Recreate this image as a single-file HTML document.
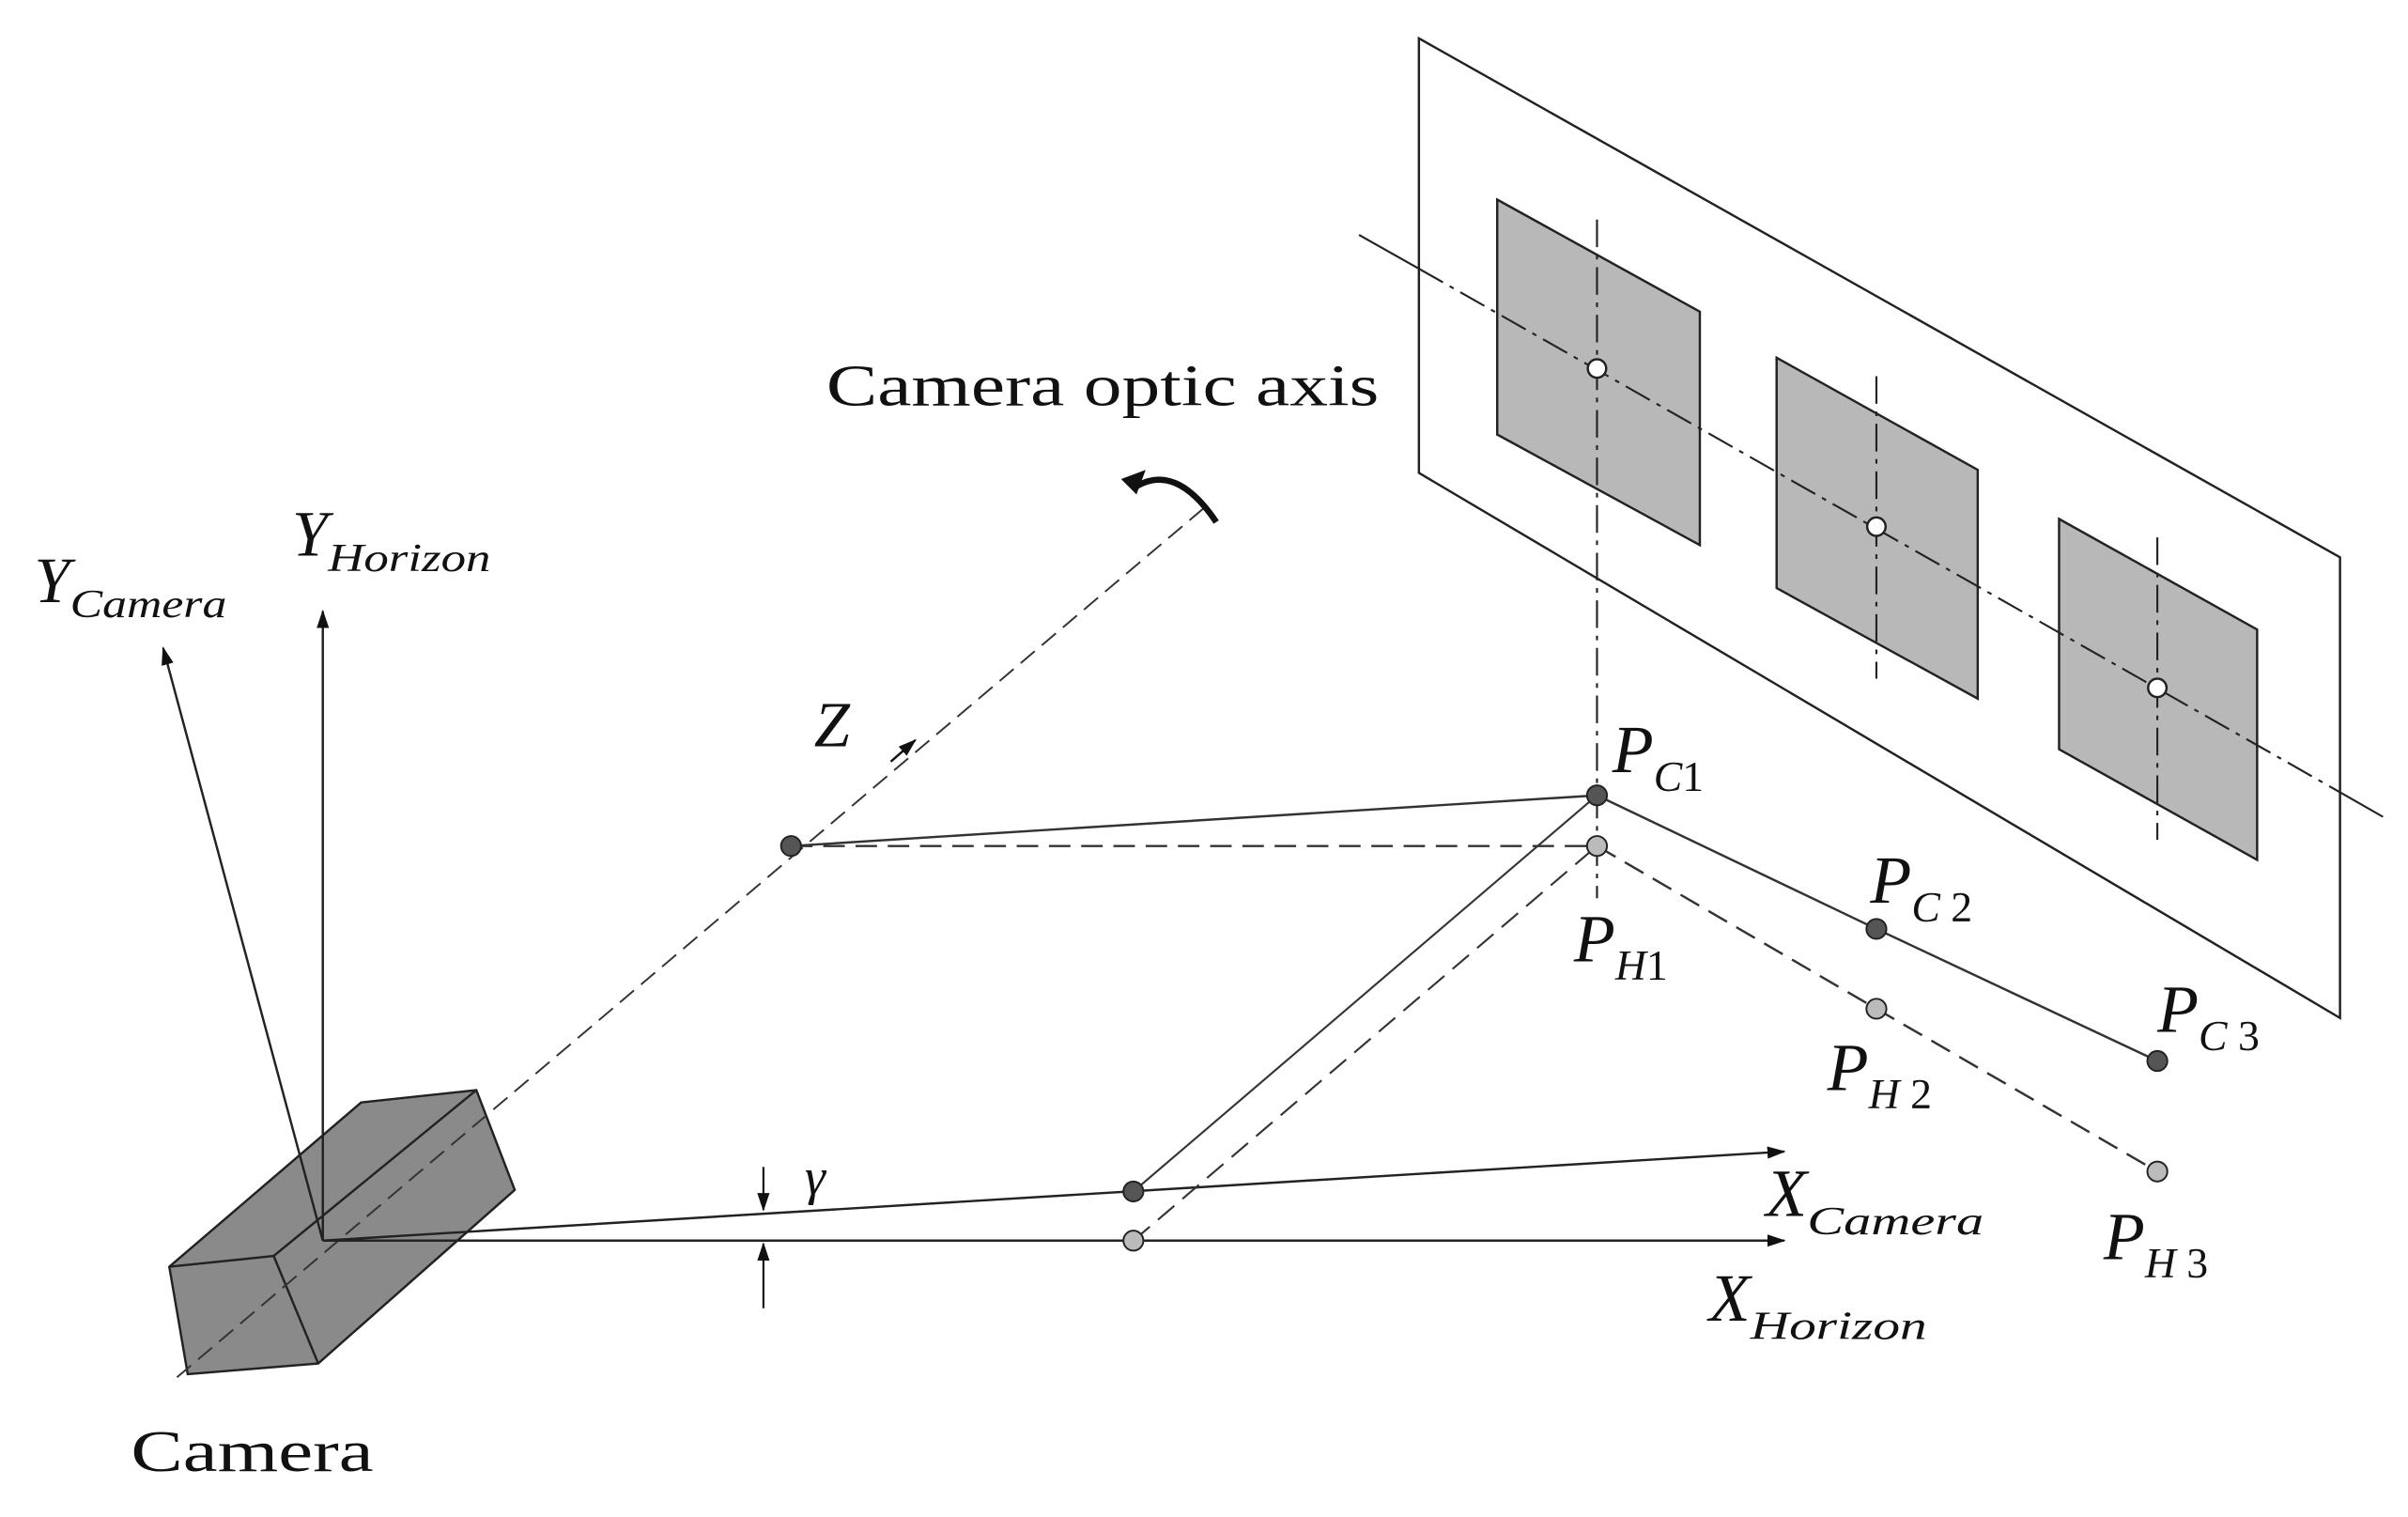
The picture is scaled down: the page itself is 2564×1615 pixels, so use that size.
<!DOCTYPE html>
<html><head><meta charset="utf-8"><style>html,body{margin:0;padding:0;background:#fff}svg{display:block}</style></head>
<body>
<svg width="2564" height="1615" viewBox="0 0 1568 988" xmlns="http://www.w3.org/2000/svg" font-family="Liberation Serif, serif">
<defs>
<marker id="ar" markerWidth="12" markerHeight="8" refX="11" refY="4" orient="auto" markerUnits="userSpaceOnUse"><path d="M0,0 L12,4 L0,8 z" fill="#111"/></marker>
</defs>
<rect width="1568" height="988" fill="#fff"/>
<polygon points="924,25 924,308 1524,663 1524,363" fill="none" stroke="#222" stroke-width="1.5"/>
<polygon points="975,130 1107,203 1107,355 975,283" fill="#b8b8b8" stroke="#222" stroke-width="1.5"/>
<polygon points="1157,233 1288,306 1288,455 1157,383" fill="#b8b8b8" stroke="#222" stroke-width="1.5"/>
<polygon points="1341,338 1470,410 1470,560 1341,488" fill="#b8b8b8" stroke="#222" stroke-width="1.5"/>
<line x1="885" y1="153" x2="924" y2="175" stroke="#222" stroke-width="1.3"/>
<line x1="924" y1="175" x2="1524" y2="516" stroke="#222" stroke-width="1.3" stroke-dasharray="18,5,3,5"/>
<line x1="1524" y1="516" x2="1552" y2="532" stroke="#222" stroke-width="1.3"/>
<line x1="1040" y1="143" x2="1040" y2="585" stroke="#222" stroke-width="1.3" stroke-dasharray="18,5,3,5"/>
<line x1="1222" y1="245" x2="1222" y2="442" stroke="#222" stroke-width="1.3" stroke-dasharray="18,5,3,5"/>
<line x1="1405" y1="350" x2="1405" y2="547" stroke="#222" stroke-width="1.3" stroke-dasharray="18,5,3,5"/>
<circle cx="1040" cy="240" r="6" fill="#fff" stroke="#222" stroke-width="1.5"/>
<circle cx="1222" cy="343" r="6" fill="#fff" stroke="#222" stroke-width="1.5"/>
<circle cx="1405" cy="448" r="6" fill="#fff" stroke="#222" stroke-width="1.5"/>
<polygon points="110,825 235,718 310,710 335,775 207,888 122,895" fill="#8a8a8a" stroke="#222" stroke-width="1.5"/>
<polyline points="110,825 178,818 310,710" fill="none" stroke="#222" stroke-width="1.5"/>
<line x1="178" y1="818" x2="207" y2="888" stroke="#222" stroke-width="1.5"/>
<line x1="115" y1="897" x2="785" y2="330" stroke="#333" stroke-width="1.2" stroke-dasharray="12,6"/>
<line x1="580" y1="496" x2="596" y2="482" stroke="#111" stroke-width="1.5" marker-end="url(#ar)"/>
<path d="M738,318 Q765,300 792,340" fill="none" stroke="#111" stroke-width="4"/>
<path d="M730,312 L746,306 L740,322 z" fill="#111"/>
<line x1="210" y1="808" x2="210" y2="398" stroke="#222" stroke-width="1.5" marker-end="url(#ar)"/>
<line x1="210" y1="808" x2="106" y2="422" stroke="#222" stroke-width="1.5" marker-end="url(#ar)"/>
<line x1="210" y1="808" x2="1162" y2="808" stroke="#222" stroke-width="1.5" marker-end="url(#ar)"/>
<line x1="210" y1="808" x2="1162" y2="750" stroke="#222" stroke-width="1.5" marker-end="url(#ar)"/>
<line x1="497" y1="760" x2="497" y2="788" stroke="#111" stroke-width="1.3" marker-end="url(#ar)"/>
<line x1="497" y1="852" x2="497" y2="810" stroke="#111" stroke-width="1.3" marker-end="url(#ar)"/>
<line x1="515" y1="551" x2="1040" y2="518" stroke="#333" stroke-width="1.5"/>
<line x1="515" y1="551" x2="1040" y2="551" stroke="#333" stroke-width="1.5" stroke-dasharray="14,7"/>
<line x1="738" y1="776" x2="1040" y2="518" stroke="#333" stroke-width="1.3"/>
<line x1="738" y1="808" x2="1040" y2="551" stroke="#333" stroke-width="1.3" stroke-dasharray="14,7"/>
<polyline points="1040,518 1222,605 1405,691" fill="none" stroke="#333" stroke-width="1.5"/>
<polyline points="1040,551 1222,657 1405,763" fill="none" stroke="#333" stroke-width="1.5" stroke-dasharray="14,7"/>
<g stroke="#222" stroke-width="1.2">
<circle cx="515" cy="551" r="6.5" fill="#555"/>
<circle cx="1040" cy="518" r="6.5" fill="#555"/>
<circle cx="1040" cy="551" r="6.5" fill="#bbb"/>
<circle cx="1222" cy="605" r="6.5" fill="#555"/>
<circle cx="1222" cy="657" r="6.5" fill="#bbb"/>
<circle cx="1405" cy="691" r="6.5" fill="#555"/>
<circle cx="1405" cy="763" r="6.5" fill="#bbb"/>
<circle cx="738" cy="776" r="6.5" fill="#555"/>
<circle cx="738" cy="808" r="6.5" fill="#bbb"/>
</g>
<g fill="#111">
<text x="538" y="264" font-size="38" textLength="360" lengthAdjust="spacingAndGlyphs">Camera optic axis</text>
<text x="85" y="958" font-size="38" textLength="158" lengthAdjust="spacingAndGlyphs">Camera</text>
<text x="22" y="392" font-size="42" font-style="italic">Y<tspan font-size="26" dy="10" textLength="102" lengthAdjust="spacingAndGlyphs">Camera</tspan></text>
<text x="190" y="362" font-size="42" font-style="italic">Y<tspan font-size="26" dy="10" textLength="106" lengthAdjust="spacingAndGlyphs">Horizon</tspan></text>
<text x="530" y="486" font-size="42" font-style="italic">Z</text>
<text x="524" y="778" font-size="34" font-style="italic">γ</text>
<text x="1150" y="792" font-size="44" font-style="italic">X<tspan font-size="26" dy="12" textLength="115" lengthAdjust="spacingAndGlyphs">Camera</tspan></text>
<text x="1113" y="860" font-size="44" font-style="italic">X<tspan font-size="26" dy="12" textLength="115" lengthAdjust="spacingAndGlyphs">Horizon</tspan></text>
<text x="1050" y="503" font-size="44" font-style="italic">P<tspan font-size="28" dy="12">C</tspan><tspan font-size="28" font-style="normal">1</tspan></text>
<text x="1025" y="626" font-size="44" font-style="italic">P<tspan font-size="28" dy="12">H</tspan><tspan font-size="28" font-style="normal">1</tspan></text>
<text x="1218" y="588" font-size="44" font-style="italic">P<tspan font-size="28" dy="12">C</tspan><tspan font-size="28" font-style="normal"> 2</tspan></text>
<text x="1190" y="710" font-size="44" font-style="italic">P<tspan font-size="28" dy="12">H</tspan><tspan font-size="28" font-style="normal"> 2</tspan></text>
<text x="1405" y="672" font-size="44" font-style="italic">P<tspan font-size="28" dy="12">C</tspan><tspan font-size="28" font-style="normal"> 3</tspan></text>
<text x="1370" y="820" font-size="44" font-style="italic">P<tspan font-size="28" dy="12">H</tspan><tspan font-size="28" font-style="normal"> 3</tspan></text>
</g>
</svg>
</body></html>
